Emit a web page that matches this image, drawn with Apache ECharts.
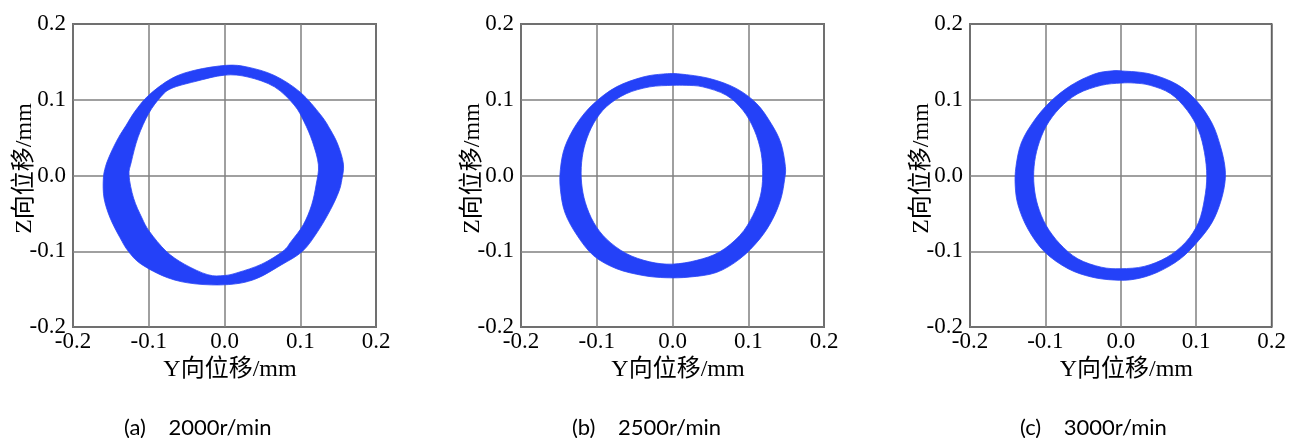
<!DOCTYPE html>
<html><head><meta charset="utf-8">
<script src="https://cdn.jsdelivr.net/npm/echarts@6/dist/echarts.min.js"></script>
<style>html,body{margin:0;padding:0;background:#fff}#c{width:1289px;height:438px}</style>
</head><body><div id="c"></div>
<script>
// Tick labels (shared by all three panels)
const tickValues = [-0.2, -0.1, 0.0, 0.1, 0.2];
const captions = ['(a)    2000r/min', '(b)    2500r/min', '(c)    3000r/min'];

// Orbit band boundaries: [Y, Z] in mm
const outerA = [[0.003,0.1455],[0.031,0.143],[0.066,0.132],[0.100,0.110],[0.127,0.080],[0.140,0.060],[0.150,0.040],[0.157,0.015],[0.155,-0.005],[0.151,-0.021],[0.140,-0.045],[0.123,-0.074],[0.103,-0.100],[0.075,-0.118],[0.040,-0.137],[0.005,-0.144],[-0.039,-0.143],[-0.075,-0.135],[-0.110,-0.117],[-0.127,-0.100],[-0.138,-0.082],[-0.151,-0.056],[-0.159,-0.030],[-0.160,-0.005],[-0.157,0.012],[-0.150,0.030],[-0.140,0.050],[-0.130,0.066],[-0.118,0.085],[-0.100,0.106],[-0.070,0.128],[-0.039,0.139]];
const innerA = [[0.000,0.1325],[-0.039,0.124],[-0.070,0.115],[-0.084,0.104],[-0.100,0.082],[-0.114,0.051],[-0.123,0.018],[-0.126,0.000],[-0.120,-0.030],[-0.109,-0.056],[-0.099,-0.074],[-0.077,-0.100],[-0.053,-0.117],[-0.022,-0.131],[0.000,-0.132],[0.018,-0.128],[0.049,-0.117],[0.077,-0.100],[0.088,-0.087],[0.104,-0.065],[0.115,-0.039],[0.121,-0.012],[0.124,0.014],[0.116,0.045],[0.105,0.071],[0.092,0.093],[0.066,0.117],[0.031,0.130]];

const outerB = [[0.010,0.134],[0.049,0.128],[0.084,0.115],[0.111,0.095],[0.130,0.069],[0.143,0.043],[0.149,0.012],[0.148,-0.005],[0.143,-0.031],[0.132,-0.058],[0.115,-0.084],[0.089,-0.110],[0.058,-0.128],[0.023,-0.134],[-0.008,-0.135],[-0.039,-0.132],[-0.074,-0.123],[-0.104,-0.106],[-0.126,-0.079],[-0.142,-0.049],[-0.148,-0.018],[-0.148,0.008],[-0.142,0.038],[-0.126,0.069],[-0.104,0.095],[-0.074,0.117],[-0.039,0.130],[-0.012,0.134]];
const innerB = [[0.000,0.119],[-0.030,0.117],[-0.061,0.108],[-0.087,0.091],[-0.104,0.069],[-0.115,0.043],[-0.120,0.017],[-0.120,-0.010],[-0.115,-0.036],[-0.104,-0.062],[-0.087,-0.084],[-0.061,-0.103],[-0.030,-0.114],[0.000,-0.117],[0.032,-0.112],[0.062,-0.101],[0.089,-0.079],[0.106,-0.053],[0.116,-0.027],[0.119,-0.001],[0.117,0.030],[0.108,0.060],[0.093,0.086],[0.071,0.106],[0.040,0.117],[0.018,0.119]];

const outerC = [[0.002,0.138],[0.039,0.134],[0.075,0.120],[0.101,0.098],[0.121,0.069],[0.132,0.039],[0.138,0.012],[0.138,-0.010],[0.132,-0.036],[0.121,-0.062],[0.103,-0.086],[0.079,-0.110],[0.048,-0.128],[0.018,-0.137],[-0.009,-0.138],[-0.039,-0.134],[-0.070,-0.123],[-0.101,-0.101],[-0.123,-0.071],[-0.136,-0.040],[-0.140,-0.014],[-0.139,0.012],[-0.132,0.043],[-0.116,0.071],[-0.094,0.097],[-0.066,0.119],[-0.035,0.134],[-0.013,0.138]];
const innerC = [[0.000,0.122],[-0.026,0.119],[-0.057,0.108],[-0.081,0.089],[-0.099,0.065],[-0.110,0.038],[-0.115,0.012],[-0.115,-0.014],[-0.110,-0.040],[-0.099,-0.066],[-0.081,-0.090],[-0.057,-0.110],[-0.026,-0.121],[0.000,-0.123],[0.031,-0.120],[0.061,-0.108],[0.086,-0.088],[0.103,-0.062],[0.111,-0.031],[0.114,-0.001],[0.111,0.030],[0.103,0.060],[0.088,0.086],[0.066,0.108],[0.039,0.119],[0.018,0.122]];

const rings = [[outerA, innerA], [outerB, innerB], [outerC, innerC]];

function closedSmoothPath(pts) {
  const n = pts.length;
  let d = 'M' + pts[0][0] + ' ' + pts[0][1];
  for (let i = 0; i < n; i++) {
    const p0 = pts[(i - 1 + n) % n], p1 = pts[i], p2 = pts[(i + 1) % n], p3 = pts[(i + 2) % n];
    const c1x = p1[0] + (p2[0] - p0[0]) / 6, c1y = p1[1] + (p2[1] - p0[1]) / 6;
    const c2x = p2[0] - (p3[0] - p1[0]) / 6, c2y = p2[1] - (p3[1] - p1[1]) / 6;
    d += 'C' + c1x + ' ' + c1y + ' ' + c2x + ' ' + c2y + ' ' + p2[0] + ' ' + p2[1];
  }
  return d + 'Z';
}

const chart = echarts.init(document.getElementById('c'), null, {renderer: 'canvas'});
const lefts = [73, 521, 970];
const serif = "'Liberation Serif','Noto Sans CJK SC',serif";
const grids = [], xAxes = [], yAxes = [], series = [], titles = [];
const capLefts = [119, 567, 1015];
rings.forEach((r, i) => {
  grids.push({left: lefts[i], top: 24, width: 303, height: 303, show: true, borderColor: '#000', borderWidth: 1.5, backgroundColor: 'transparent'});
  const common = {
    type: 'value', gridIndex: i, min: tickValues[0], max: tickValues[tickValues.length - 1], interval: 0.1,
    axisLine: {show: false}, axisTick: {show: false},
    splitLine: {show: true, lineStyle: {color: '#808080', width: 1.5}},
    axisLabel: {color: '#000', fontFamily: serif, fontSize: 23, formatter: v => v.toFixed(1)},
    nameLocation: 'middle', nameMoveOverlap: false
  };
  xAxes.push(Object.assign({}, common, {
    name: 'Y向位移/mm', nameGap: 31,
    nameTextStyle: {color: '#000', fontFamily: serif, fontSize: 24, padding: [0, 0, 0, 11]},
    axisLabel: Object.assign({}, common.axisLabel, {margin: 3})
  }));
  yAxes.push(Object.assign({}, common, {
    name: 'Z向位移/mm', nameGap: 36,
    nameTextStyle: {color: '#000', fontFamily: serif, fontSize: 24, padding: [0, 0, 0, 14]},
    axisLabel: Object.assign({}, common.axisLabel, {margin: 7})
  }));
  series.push({
    type: 'custom', xAxisIndex: i, yAxisIndex: i, data: [[0, 0]], silent: true, clip: true,
    renderItem: (params, api) => {
      const outer = r[0].map(p => api.coord(p));
      const inner = r[1].map(p => api.coord(p));
      return {
        type: 'path',
        shape: {pathData: closedSmoothPath(outer) + closedSmoothPath(inner)},
        style: {fill: '#2441f8', stroke: '#2a45f5', lineWidth: 0.8}
      };
    }
  });
  titles.push({text: captions[i], left: capLefts[i], top: 412, textStyle: {fontFamily: "Lato,'Liberation Sans',sans-serif", fontSize: 22, fontWeight: 'normal', color: '#000'}});
});

chart.setOption({
  animation: false,
  title: titles,
  grid: grids, xAxis: xAxes, yAxis: yAxes, series: series
});
</script></body></html>
